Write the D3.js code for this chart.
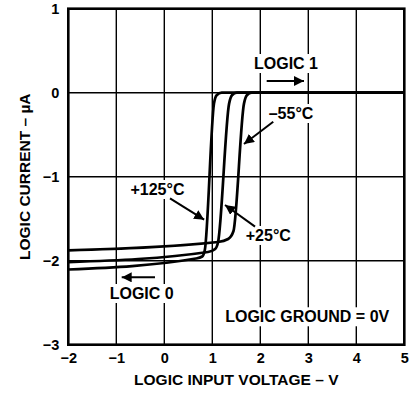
<!DOCTYPE html>
<html>
<head>
<meta charset="utf-8">
<script src="https://cdn.jsdelivr.net/npm/d3@7"></script>
<style>
body { margin: 0; background: #fff; }
text { font-family: "Liberation Sans", Arial, sans-serif; font-weight: bold; fill: #000; }
.tick text { font-size: 14.5px; }
.label { font-size: 15.5px; }
.note { font-size: 16px; }
</style>
</head>
<body>
<div id="chart"></div>
<script>
var xTicks = [-2, -1, 0, 1, 2, 3, 4, 5]
var yTicks = [1, 0, -1, -2, -3]

var curveNames = ["+125°C", "+25°C", "–55°C"]
// logic input voltage (V) and logic current (uA)
var volts125 = [-2, 0.66, 0.79, 0.845, 1.035, 1.09, 1.196, 5]
var amps125  = [-2.105, -1.974, -1.95, -1.87, -0.13, -0.03, 0, 0]
var volts25  = [-2, 0.91, 1.06, 1.12, 1.35, 1.41, 1.51, 5]
var amps25   = [-2.018, -1.896, -1.86, -1.78, -0.13, -0.03, 0, 0]
var volts55  = [-2, 1.12, 1.33, 1.44, 1.66, 1.72, 1.82, 5]
var amps55   = [-1.876, -1.777, -1.742, -1.65, -0.13, -0.03, 0, 0]

var width = 419, height = 394
var margin = {top: 8.7, right: 14.7, bottom: 49.3, left: 68.3}
var w = width - margin.left - margin.right
var h = height - margin.top - margin.bottom

var svg = d3.select("#chart").append("svg")
  .attr("width", width)
  .attr("height", height)

var g = svg.append("g")
  .attr("transform", "translate(" + margin.left + "," + margin.top + ")")

var x = d3.scaleLinear().domain([-2, 5]).range([0, w])
var y = d3.scaleLinear().domain([-3, 1]).range([h, 0])

// grid
g.selectAll(".vgrid")
  .data(xTicks.slice(1, -1))
  .enter().append("line")
    .attr("class", "vgrid")
    .attr("x1", function(d){ return x(d) })
    .attr("x2", function(d){ return x(d) })
    .attr("y1", 0)
    .attr("y2", h)
    .attr("stroke", "#000")
    .attr("stroke-width", 1.4)

g.selectAll(".hgrid")
  .data(yTicks.slice(1, -1))
  .enter().append("line")
    .attr("class", "hgrid")
    .attr("x1", 0)
    .attr("x2", w)
    .attr("y1", function(d){ return y(d) })
    .attr("y2", function(d){ return y(d) })
    .attr("stroke", "#000")
    .attr("stroke-width", 1.4)

// annotations, placed in data units
var notes = [
  {text: "LOGIC 1", x: 2.535, y: 0.282},
  {text: curveNames[2], x: 2.64, y: -0.313},
  {text: curveNames[0], x: -0.142, y: -1.218},
  {text: curveNames[1], x: 2.167, y: -1.765},
  {text: "LOGIC 0", x: -0.471, y: -2.456},
  {text: "LOGIC GROUND = 0V", x: 2.977, y: -2.733}
]

var bgLayer = g.append("g")
var curveLayer = g.append("g")
var textLayer = g.append("g")

var labels = textLayer.selectAll(".note")
  .data(notes)
  .enter().append("text")
    .attr("class", "note")
    .attr("text-anchor", "middle")
    .attr("x", function(d){ return x(d.x) })
    .attr("y", function(d){ return y(d.y) })
    .text(function(d){ return d.text })

labels.each(function(){
  var b = this.getBBox()
  bgLayer.append("rect")
    .attr("x", b.x - 2)
    .attr("y", b.y - 1)
    .attr("width", b.width + 4)
    .attr("height", b.height + 2)
    .attr("fill", "#fff")
})

// curves
var line = d3.line()
  .x(function(d){ return x(d[0]) })
  .y(function(d){ return y(d[1]) })
  .curve(d3.curveMonotoneX)

var series = [d3.zip(volts125, amps125), d3.zip(volts25, amps25), d3.zip(volts55, amps55)]

curveLayer.selectAll(".curve")
  .data(series)
  .enter().append("path")
    .attr("class", "curve")
    .attr("d", line)
    .attr("fill", "none")
    .attr("stroke", "#000")
    .attr("stroke-width", 2.7)
    .attr("stroke-linejoin", "round")

// frame
g.append("rect")
  .attr("width", w)
  .attr("height", h)
  .attr("fill", "none")
  .attr("stroke", "#000")
  .attr("stroke-width", 2.6)

// arrows
svg.append("defs").append("marker")
  .attr("id", "head")
  .attr("viewBox", "0 0 10 10")
  .attr("refX", 10)
  .attr("refY", 5)
  .attr("markerWidth", 10)
  .attr("markerHeight", 10)
  .attr("markerUnits", "userSpaceOnUse")
  .attr("orient", "auto")
  .append("path")
    .attr("d", "M0,0L10,5L0,10Z")
    .attr("fill", "#000")

var arrows = [
  {x1: 2.133, y1: 0.139, x2: 2.91, y2: 0.139},
  {x1: 2.27, y1: -0.345, x2: 1.66, y2: -0.611},
  {x1: 0.119, y1: -1.257, x2: 0.83, y2: -1.512},
  {x1: 1.89, y1: -1.595, x2: 1.265, y2: -1.337},
  {x1: -0.194, y1: -2.198, x2: -0.8875, y2: -2.198}
]

textLayer.selectAll(".arrow")
  .data(arrows)
  .enter().append("line")
    .attr("class", "arrow")
    .attr("x1", function(d){ return x(d.x1) })
    .attr("y1", function(d){ return y(d.y1) })
    .attr("x2", function(d){ return x(d.x2) })
    .attr("y2", function(d){ return y(d.y2) })
    .attr("stroke", "#000")
    .attr("stroke-width", 2)
    .attr("marker-end", "url(#head)")

// axes
var xAxis = g.append("g")
  .attr("transform", "translate(0," + h + ")")
  .call(d3.axisBottom(x).tickValues(xTicks).tickFormat(d3.format("d")).tickSize(0).tickPadding(8.5))
xAxis.select(".domain").remove()

var yAxis = g.append("g")
  .call(d3.axisLeft(y).tickValues(yTicks).tickFormat(d3.format("d")).tickSize(0).tickPadding(9))
yAxis.select(".domain").remove()

g.selectAll(".tick text")
  .attr("font-family", null)
  .attr("font-size", null)

svg.append("text")
  .attr("class", "label")
  .attr("text-anchor", "middle")
  .attr("x", margin.left + w / 2)
  .attr("y", 385)
  .text("LOGIC INPUT VOLTAGE – V")

svg.append("text")
  .attr("class", "label")
  .attr("text-anchor", "middle")
  .attr("transform", "translate(30," + (margin.top + h / 2) + ")rotate(-90)")
  .text("LOGIC CURRENT – µA")
</script>
</body>
</html>
